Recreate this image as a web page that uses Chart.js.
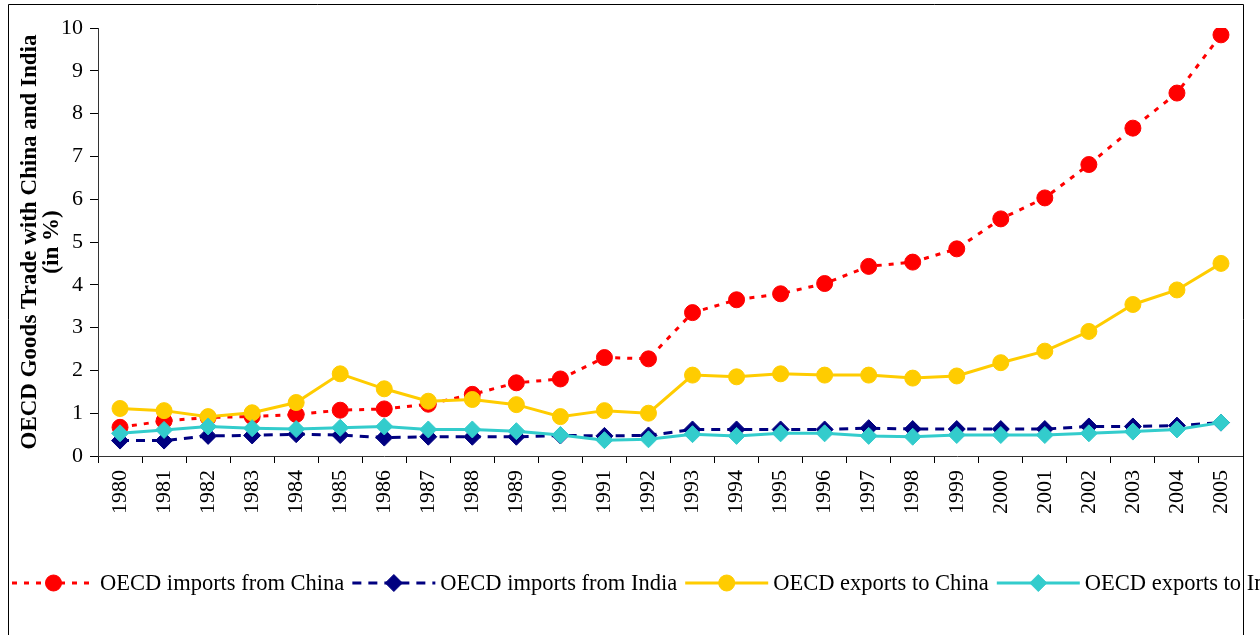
<!DOCTYPE html>
<html><head><meta charset="utf-8">
<script src="https://cdn.jsdelivr.net/npm/chart.js@4.4.1/dist/chart.umd.min.js"></script>
<style>html,body{margin:0;padding:0;background:#fff;}canvas{display:block;}</style>
</head><body>
<canvas id="c" width="1260" height="635"></canvas>
<script>
const years = ['1980','1981','1982','1983','1984','1985','1986','1987','1988','1989','1990','1991','1992','1993','1994','1995','1996','1997','1998','1999','2000','2001','2002','2003','2004','2005'];
const importsChina = [0.67,0.82,0.90,0.92,0.97,1.07,1.10,1.21,1.44,1.71,1.80,2.30,2.27,3.35,3.65,3.79,4.03,4.43,4.53,4.84,5.54,6.03,6.81,7.66,8.48,9.84];
const importsIndia = [0.36,0.36,0.47,0.48,0.51,0.49,0.43,0.45,0.45,0.45,0.48,0.47,0.48,0.62,0.62,0.62,0.62,0.65,0.63,0.63,0.63,0.63,0.69,0.69,0.71,0.78];
const exportsChina = [1.11,1.06,0.92,1.01,1.25,1.92,1.57,1.28,1.32,1.20,0.92,1.06,1.00,1.89,1.85,1.92,1.89,1.89,1.82,1.87,2.18,2.45,2.91,3.54,3.88,4.50];
const exportsIndia = [0.53,0.61,0.69,0.65,0.63,0.66,0.69,0.62,0.62,0.58,0.49,0.37,0.39,0.51,0.47,0.53,0.53,0.47,0.45,0.49,0.49,0.49,0.53,0.57,0.62,0.78];
const seriesNames = ['OECD imports from China','OECD imports from India','OECD exports to China','OECD exports to India'];
const yAxisTitle = ['OECD Goods Trade with China and India','(in %)'];
const yMin = 0, yMax = 10, yStep = 1;

const FAM = '"Liberation Serif", "Times New Roman", serif';

function drawMarker(ctx, style, r, x, y, color){
  ctx.fillStyle = color; ctx.strokeStyle = color; ctx.lineWidth = 1;
  ctx.beginPath();
  if (style === 'circle') { ctx.arc(x, y, r, 0, Math.PI*2); }
  else { ctx.moveTo(x, y-r); ctx.lineTo(x+r, y); ctx.lineTo(x, y+r); ctx.lineTo(x-r, y); ctx.closePath(); }
  ctx.fill(); ctx.stroke();
}

const framePlugin = {
  id: 'frameLegend',
  afterDraw(chart){
    const ctx = chart.ctx;
    ctx.save();
    ctx.strokeStyle = '#000'; ctx.lineWidth = 1; ctx.setLineDash([]);
    ctx.beginPath();
    ctx.moveTo(8.5, 635); ctx.lineTo(8.5, 4.5); ctx.lineTo(1243.5, 4.5); ctx.lineTo(1243.5, 635);
    ctx.stroke();
    // legend
    let x = 12; const y = 583;
    ctx.font = '22.5px ' + FAM;
    ctx.textBaseline = 'middle'; ctx.textAlign = 'left';
    chart.data.datasets.forEach(ds => {
      ctx.save();
      ctx.strokeStyle = ds.borderColor; ctx.lineWidth = ds.borderWidth;
      ctx.setLineDash(ds.borderDash || []);
      ctx.beginPath(); ctx.moveTo(x, y); ctx.lineTo(x + 83, y); ctx.stroke();
      ctx.setLineDash([]);
      drawMarker(ctx, ds.pointStyle, ds.pointRadius, x + 41.5, y, ds.pointBackgroundColor);
      ctx.restore();
      ctx.fillStyle = '#000';
      ctx.fillText(ds.label, x + 88, y + 1);
      x = x + 88 + ctx.measureText(ds.label).width + 8;
    });
    ctx.restore();
  }
};

new Chart(document.getElementById('c'), {
  type: 'line',
  data: {
    labels: years,
    datasets: [
      { label: seriesNames[0], data: importsChina, borderColor: '#FF0000', borderWidth: 3, borderDash: [5,7],
        pointStyle: 'circle', pointRadius: 8, pointBackgroundColor: '#FF0000', pointBorderColor: '#FF0000', pointBorderWidth: 1, order: 4 },
      { label: seriesNames[1], data: importsIndia, borderColor: '#000080', borderWidth: 3, borderDash: [9,7],
        pointStyle: 'rectRot', pointRadius: 8.5, pointBackgroundColor: '#000080', pointBorderColor: '#000080', pointBorderWidth: 1, order: 3 },
      { label: seriesNames[2], data: exportsChina, borderColor: '#FFCC00', borderWidth: 3,
        pointStyle: 'circle', pointRadius: 8, pointBackgroundColor: '#FFCC00', pointBorderColor: '#FFCC00', pointBorderWidth: 1, order: 2 },
      { label: seriesNames[3], data: exportsIndia, borderColor: '#33CCCC', borderWidth: 3,
        pointStyle: 'rectRot', pointRadius: 8.5, pointBackgroundColor: '#33CCCC', pointBorderColor: '#33CCCC', pointBorderWidth: 1, order: 1 }
    ]
  },
  options: {
    responsive: false,
    animation: false,
    devicePixelRatio: 1,
    layout: { padding: { left: 10, right: 17, top: 28, bottom: 0 } },
    plugins: { legend: { display: false }, tooltip: { enabled: false } },
    elements: { line: { tension: 0 } },
    scales: {
      x: {
        offset: true,
        grid: { offset: true, drawOnChartArea: false, drawTicks: true, tickLength: 7, color: '#000' },
        border: { display: true, color: '#333' },
        ticks: { autoSkip: false, maxRotation: 90, minRotation: 90, padding: 7, color: '#000', font: { family: FAM, size: 22 } },
        afterFit(s){ s.height = 179; }
      },
      y: {
        min: yMin, max: yMax,
        grid: { drawOnChartArea: false, drawTicks: true, tickLength: 8, color: '#000' },
        border: { display: true, color: '#333' },
        ticks: { stepSize: yStep, padding: 7, color: '#000', font: { family: FAM, size: 22 } },
        title: { display: true, text: yAxisTitle, color: '#000', padding: { top: 9, bottom: 0 },
                 font: { family: FAM, size: 23, weight: 'bold', lineHeight: 0.95 } },
        afterFit(s){ s.width = 88; }
      }
    }
  },
  plugins: [framePlugin]
});
</script>
</body></html>
